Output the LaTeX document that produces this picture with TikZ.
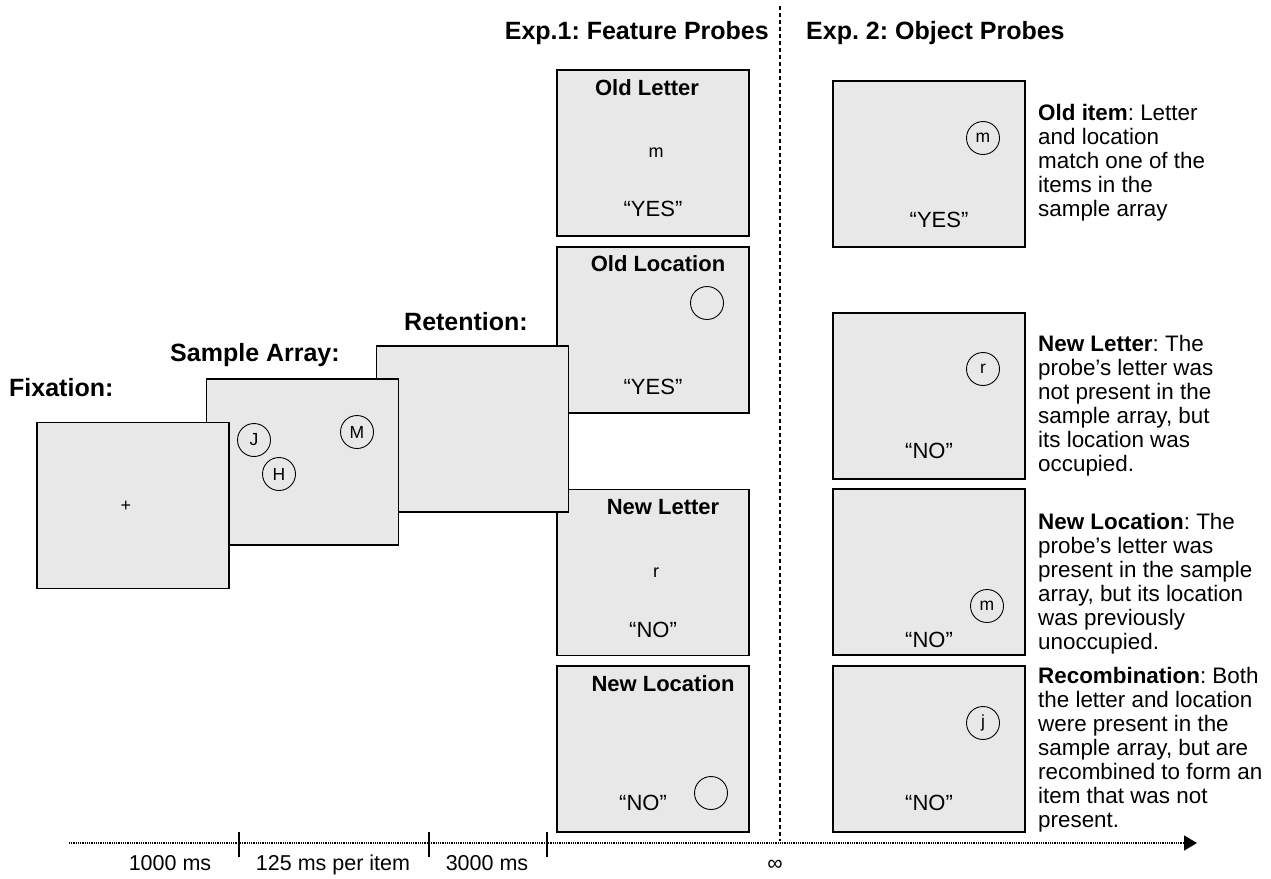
\documentclass[tikz,border=0pt]{standalone}
\usepackage{fontspec}
\setmainfont{Liberation Sans}
\usetikzlibrary{arrows.meta}
\definecolor{scr}{HTML}{E8E8E8}
\frenchspacing
\begin{document}
\begin{tikzpicture}[x=1pt,y=-1pt,
  screen/.style={draw=black, fill=scr, line width=1.6pt, minimum width=192pt, minimum height=166pt, inner sep=0pt, outer sep=0pt},
  ring/.style={circle, draw=black, line width=0.9pt, minimum size=33pt, inner sep=0pt, font=\fontsize{17.5}{19}\selectfont},
  head/.style={font=\bfseries\fontsize{25}{28}\selectfont, inner sep=0pt},
  boxtitle/.style={font=\bfseries\fontsize{22}{24}\selectfont, inner sep=0pt},
  resp/.style={font=\fontsize{22}{24}\selectfont, inner sep=0pt},
  lett/.style={font=\fontsize{18}{20}\selectfont, inner sep=0pt},
  desc/.style={font=\fontsize{22.4}{24}\selectfont, inner sep=0pt, align=left, anchor=north west},
  tlabel/.style={font=\fontsize{21.5}{24}\selectfont, inner sep=0pt, anchor=base},
  timeline/.style={line width=1.5pt, dash pattern=on 1pt off 0.8pt},
  tick/.style={line width=1.1pt},
  divider/.style={line width=1.3pt, dash pattern=on 4pt off 3pt},
]
\useasboundingbox (0,0) rectangle (1271,878);

% headings
\node[head, anchor=east] (h1) at (769,33) {Exp.1: Feature Probes};
\node[head, anchor=west] (h2) at (806,33) {Exp. 2: Object Probes};

% divider
\coordinate (dvt) at (780,6);
\coordinate (dvb) at (780,841);
\draw[divider] (dvt) -- (dvb);

% Exp 1 boxes
\node[screen] (e1a) at (653,153) {};
\node[screen] (e1b) at (653,330) {};
\node[screen] (e1c) at (653,572.5) {};
\node[screen] (e1d) at (653,749) {};

\node[boxtitle] (e1at) at (647,88) {Old Letter};
\node[lett] (e1am) at (656,153) {m};
\node[resp] (e1ar) at (653,209) {“YES”};

\node[boxtitle] (e1bt) at (658,264) {Old Location};
\node[ring] (e1bc) at (707,303) {};
\node[resp] (e1br) at (653,387) {“YES”};

\node[boxtitle] (e1ct) at (663,507) {New Letter};
\node[lett] (e1cm) at (656,573) {r};
\node[resp] (e1cr) at (653,630) {“NO”};

\node[boxtitle] (e1dt) at (663,684) {New Location};
\node[ring] (e1dc) at (711,793) {};
\node[resp] (e1dr) at (643,803) {“NO”};

% stages (drawn over the probe column)
\node[screen] (ret) at (472.5,429) {};
\node[screen] (samp) at (302.5,462) {};
\node[screen] (fix) at (133,505.5) {};

\node[head] (retl) at (466,322) {Retention:};
\node[head] (sampl) at (255,355) {Sample Array:};
\node[head, anchor=west] (fixl) at (9,388) {Fixation:};

\node[ring] (cJ) at (254,440) {J};
\node[ring] (cH) at (279,474) {H};
\node[ring] (cM) at (357,432) {M};
\node[lett] (plus) at (126,506) {+};

% Exp 2 boxes
\node[screen] (e2a) at (929,164) {};
\node[screen] (e2b) at (929,396) {};
\node[screen] (e2c) at (929,572) {};
\node[screen] (e2d) at (929,749) {};

\node[ring] (e2ac) at (983,138) {m};
\node[resp] (e2ar) at (939,220) {“YES”};
\node[ring] (e2bc) at (983,369) {r};
\node[resp] (e2br) at (929,451) {“NO”};
\node[ring] (e2cc) at (987,606) {m};
\node[resp] (e2cr) at (929,640) {“NO”};
\node[ring] (e2dc) at (983,723) {j};
\node[resp] (e2dr) at (929,803) {“NO”};

\node[desc] (d1) at (1038,103) {\strut\textbf{Old item}: Letter\\and location\\match one of the\\items in the\\sample array};
\node[desc] (d2) at (1038,334) {\strut\textbf{New Letter}: The\\probe’s letter was\\not present in the\\sample array, but\\its location was\\occupied.};
\node[desc] (d3) at (1038,512) {\strut\textbf{New Location}: The\\probe’s letter was\\present in the sample\\array, but its location\\was previously\\unoccupied.};
\node[desc] (d4) at (1038,666) {\strut\textbf{Recombination}: Both\\the letter and location\\were present in the\\sample array, but are\\recombined to form an\\item that was not\\present.};

% timeline
\coordinate (tl0) at (69,843);
\coordinate (tl1) at (1197,843);
\draw[timeline, -{Triangle[length=13pt,width=15pt]}] (tl0) -- (tl1);
\coordinate (t1a) at (239,832); \coordinate (t1b) at (239,857);
\coordinate (t2a) at (429,832); \coordinate (t2b) at (429,857);
\coordinate (t3a) at (547,832); \coordinate (t3b) at (547,857);
\draw[tick] (t1a) -- (t1b);
\draw[tick] (t2a) -- (t2b);
\draw[tick] (t3a) -- (t3b);

\node[tlabel] (l1) at (170,870) {1000 ms};
\node[tlabel] (l2) at (333,870) {125 ms per item};
\node[tlabel] (l3) at (487,870) {3000 ms};
\node[tlabel] (l4) at (775,870) {∞};
\end{tikzpicture}
\end{document}
